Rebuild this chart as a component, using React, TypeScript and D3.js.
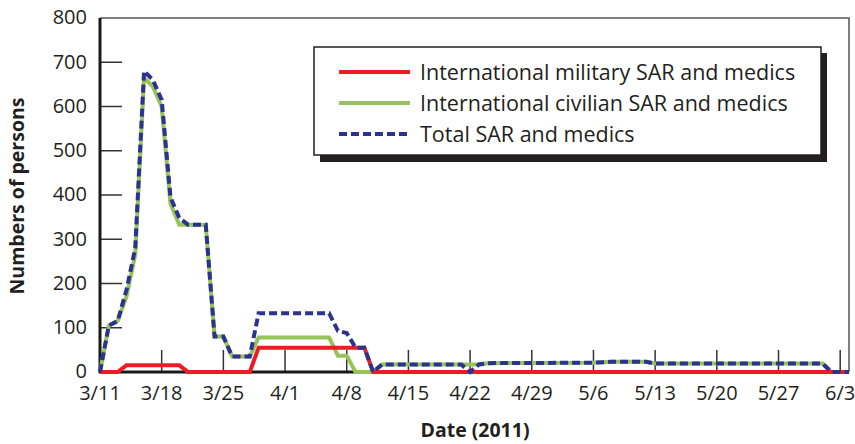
import React, { useEffect, useRef } from "react";
import * as d3 from "d3";

// series data (date, persons)
const totalDates = ["3/11","3/12","3/13","3/14","3/15","3/16","3/17","3/18","3/19","3/20","3/21","3/23","3/24","3/25","3/26","3/28","3/29","4/6","4/7","4/8","4/9","4/10","4/11","4/12","4/21","4/22","4/23","4/24","5/6","5/8","5/12","5/13","6/1","6/2","6/4"];
const totalValues = [0,105,115,185,280,680,660,615,395,348,333,333,80,80,35,35,133,133,93,88,55,55,0,17,17,0,17,20,21,23,23,19,19,0,0];

const civilianDates = ["3/11","3/12","3/13","3/14","3/15","3/16","3/17","3/18","3/19","3/20","3/23","3/24","3/25","3/26","3/28","3/29","4/6","4/7","4/8","4/9","4/11","4/12","4/23","4/24","5/6","5/8","5/12","5/13","6/1","6/2","6/4"];
const civilianValues = [0,105,115,170,265,665,645,600,380,333,333,80,80,35,35,78,78,37,37,0,0,17,17,20,21,23,23,19,19,0,0];

const militaryDates = ["3/11","3/13","3/14","3/20","3/21","3/28","3/29","4/10","4/11","6/4"];
const militaryValues = [0,0,15,15,0,0,55,55,0,0];

const xTickLabels = ["3/11","3/18","3/25","4/1","4/8","4/15","4/22","4/29","5/6","5/13","5/20","5/27","6/3"];
const yTicks = [0,100,200,300,400,500,600,700,800];

const legendLabels = [
  "International military SAR and medics",
  "International civilian SAR and medics",
  "Total SAR and medics",
];

const RED = "#ed1c24";
const GREEN = "#96c35a";
const BLUE = "#2b3290";
const TEXT = "#231f20";

const parseDay = (s: string) => {
  const [m, d] = s.split("/").map(Number);
  return new Date(2011, m - 1, d);
};

const App = () => {
  const svgRef = useRef<SVGSVGElement>(null);

  useEffect(() => {
    const svg = d3.select(svgRef.current);
    svg.selectAll("*").remove();

    const font = "'Open Sans', 'Noto Sans', sans-serif";

    const x = d3
      .scaleTime()
      .domain([parseDay("3/11"), parseDay("6/4")])
      .range([100, 849]);
    const y = d3.scaleLinear().domain([0, 800]).range([372, 18]);

    // frame (top / right thin)
    svg.append("path")
      .attr("d", `M${x.range()[0]},${y(800)}H${x.range()[1]}V${y(0)}`)
      .attr("fill", "none")
      .attr("stroke", "#555")
      .attr("stroke-width", 1.5);

    // inward y ticks
    svg.append("g")
      .selectAll("line")
      .data(yTicks.slice(1, -1))
      .enter()
      .append("line")
      .attr("x1", 100)
      .attr("x2", 122)
      .attr("y1", (d) => y(d))
      .attr("y2", (d) => y(d))
      .attr("stroke", "#333")
      .attr("stroke-width", 1.5);

    // inward x ticks
    svg.append("g")
      .selectAll("line")
      .data(xTickLabels.slice(1))
      .enter()
      .append("line")
      .attr("x1", (d) => x(parseDay(d)))
      .attr("x2", (d) => x(parseDay(d)))
      .attr("y1", y(0))
      .attr("y2", y(0) - 22)
      .attr("stroke", "#333")
      .attr("stroke-width", 1.5);

    // y tick labels
    svg.append("g")
      .selectAll("text")
      .data(yTicks)
      .enter()
      .append("text")
      .attr("x", 87)
      .attr("y", (d) => y(d))
      .attr("dy", "0.32em")
      .attr("text-anchor", "end")
      .attr("font-family", font)
      .attr("font-size", 20)
      .attr("fill", TEXT)
      .text((d) => d);

    // x tick labels
    svg.append("g")
      .selectAll("text")
      .data(xTickLabels)
      .enter()
      .append("text")
      .attr("x", (d) => x(parseDay(d)))
      .attr("y", 400)
      .attr("text-anchor", "middle")
      .attr("font-family", font)
      .attr("font-size", 20)
      .attr("fill", TEXT)
      .text((d) => d);

    // main axes (thick black)
    svg.append("path")
      .attr("d", `M${x.range()[0]},${y(800)}V${y(0)}H${x.range()[1]}`)
      .attr("fill", "none")
      .attr("stroke", "#1a1a1a")
      .attr("stroke-width", 3);

    const line = d3
      .line<[Date, number]>()
      .x((d) => x(d[0]))
      .y((d) => y(d[1]));

    const toPts = (dates: string[], vals: number[]) =>
      dates.map((d, i) => [parseDay(d), vals[i]] as [Date, number]);

    svg.append("path")
      .attr("d", line(toPts(civilianDates, civilianValues)))
      .attr("fill", "none")
      .attr("stroke", GREEN)
      .attr("stroke-width", 4);

    svg.append("path")
      .attr("d", line(toPts(militaryDates, militaryValues)))
      .attr("fill", "none")
      .attr("stroke", RED)
      .attr("stroke-width", 4);

    svg.append("path")
      .attr("d", line(toPts(totalDates, totalValues)))
      .attr("fill", "none")
      .attr("stroke", BLUE)
      .attr("stroke-width", 4)
      .attr("stroke-dasharray", "8,4");

    // legend
    const lg = svg.append("g");
    lg.append("rect")
      .attr("x", 320)
      .attr("y", 53)
      .attr("width", 507)
      .attr("height", 109)
      .attr("fill", "#231f20");
    lg.append("rect")
      .attr("x", 314)
      .attr("y", 47)
      .attr("width", 507)
      .attr("height", 108)
      .attr("fill", "#fff")
      .attr("stroke", "#231f20")
      .attr("stroke-width", 1.5);

    const styles = [
      { color: RED, dash: null },
      { color: GREEN, dash: null },
      { color: BLUE, dash: "8,4" },
    ];
    legendLabels.forEach((label, i) => {
      const cy = 72 + i * 31;
      lg.append("line")
        .attr("x1", 339)
        .attr("x2", 410)
        .attr("y1", cy)
        .attr("y2", cy)
        .attr("stroke", styles[i].color)
        .attr("stroke-width", 4)
        .attr("stroke-dasharray", styles[i].dash);
      lg.append("text")
        .attr("x", 420)
        .attr("y", cy)
        .attr("dy", "0.35em")
        .attr("font-family", font)
        .attr("font-size", 21.5)
        .attr("fill", TEXT)
        .text(label);
    });

    // axis titles
    svg.append("text")
      .attr("transform", "translate(24,196) rotate(-90)")
      .attr("text-anchor", "middle")
      .attr("font-family", font)
      .attr("font-weight", "bold")
      .attr("font-size", 19.5)
      .attr("fill", TEXT)
      .text("Numbers of persons");

    svg.append("text")
      .attr("x", 475)
      .attr("y", 437)
      .attr("text-anchor", "middle")
      .attr("font-family", font)
      .attr("font-weight", "bold")
      .attr("font-size", 19.5)
      .attr("fill", TEXT)
      .text("Date (2011)");
  }, []);

  return (
    <svg
      ref={svgRef}
      width={855}
      height={444}
      style={{ position: "absolute", left: 0, top: 0, background: "#fff" }}
    ></svg>
  );
};

export default App;
